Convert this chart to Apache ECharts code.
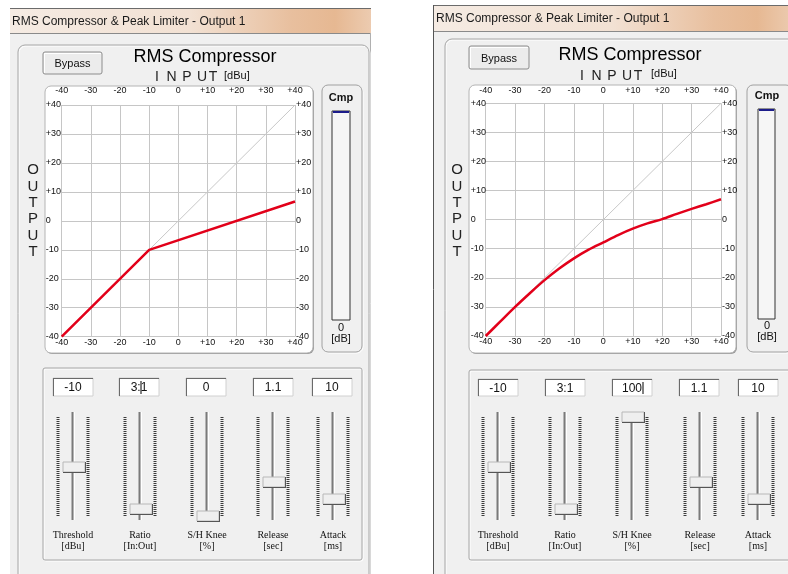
<!DOCTYPE html>
<html><head><meta charset="utf-8">
<script src="https://cdn.jsdelivr.net/npm/echarts@6/dist/echarts.min.js"></script>
<style>html,body{margin:0;padding:0;background:#fff}#c{width:788px;height:574px}</style>
</head><body><div id="c"></div>
<script>
// ---- data ----
const axisMin = -40, axisMax = 40, axisStep = 10;
const hardKneeIn  = [-40, -10, 40];
const hardKneeOut = [-40, -10, 6.7];
const softKneeIn  = [-40, -35, -30, -25, -20, -15, -10, -5, 0, 5, 10, 15, 20, 25, 30, 35, 40];
const softKneeOut = [-40, -35, -30, -25.3, -20.8, -16.8, -13.3, -10.3, -7.8, -5.3, -3.1, -1.3, 0.2, 2, 3.7, 5.3, 7];
const unityIn  = [-40, 40];
const unityOut = [-40, 40];
const paramNames  = ['Threshold', 'Ratio', 'S/H Knee', 'Release', 'Attack'];
const paramUnits  = ['[dBu]', '[In:Out]', '[%]', '[sec]', '[ms]'];
const leftValues  = ['-10', '3:1', '0', '1.1', '10'];
const rightValues = ['-10', '3:1', '100', '1.1', '10'];
const windowTitle = 'RMS Compressor & Peak Limiter - Output 1';
const headerTitle = 'RMS Compressor';
const inputLetters = ['I', 'N', 'P', 'U', 'T'];
const outputLetters = ['O', 'U', 'T', 'P', 'U', 'T'];
const meterReading = '0';

// ---- layout (positions/styles only) ----
const LEFT = {
  winX:10, winW:361, titleY:8, titleH:25, titleTextX:12,
  outer:[18,45,351,560], bypass:[43,52,59,22],
  headerX:205, headerY:57, inputY:77, dbuX:224, dbuY:76,
  outputX:33, frame:[45,86,268,267],
  cmp:[322,85,40,267], meter:[332,111,18,209], cmpX:341, cmpLabelY:98, zeroY:328, dbY:339,
  sliderPanel:[43,368,319,192],
  boxX:[53,119,186,253,312], boxY:378, boxW:40, boxH:18,
  trackX:[73,140,207,273,333], thumbY:[462,504,511,477,494],
  cursorX:141, cursorBox:1, leftBorder:false
};
const RIGHT = {
  winX:433, winW:360, titleY:5, titleH:26, titleTextX:436,
  outer:[445,39,400,560], bypass:[469,46,60,23],
  headerX:630, headerY:55, inputY:76, dbuX:651, dbuY:74,
  outputX:457, frame:[469,85,267,268],
  cmp:[747,85,45,267], meter:[758,109,17,210], cmpX:767, cmpLabelY:96, zeroY:326, dbY:337,
  sliderPanel:[469,370,330,190],
  boxX:[478,545,612,679,738], boxY:379, boxW:40, boxH:17,
  trackX:[498,565,632,700,758], thumbY:[462,504,412,477,494],
  cursorX:643, cursorBox:2, leftBorder:true
};
const inputOffsets = [-48, -33.5, -18, -3, 8];

const SANS = '"Liberation Sans", Arial, sans-serif';
const SERIF = '"Liberation Serif", "DejaVu Serif", serif';
const Z = -5;

function rect(x,y,w,h,style,r){ return {type:'rect', silent:true, z:Z, shape:{x:x,y:y,width:w,height:h,r:r||0}, style:style}; }
function line(x1,y1,x2,y2,style){ return {type:'line', silent:true, z:Z, shape:{x1:x1,y1:y1,x2:x2,y2:y2}, style:style}; }
function text(t,x,y,font,extra){
  return {type:'text', silent:true, z:Z, style:Object.assign({text:t,x:x,y:y,font:font,fill:'#111',
    textAlign:'center', textVerticalAlign:'middle', align:'center', verticalAlign:'middle'}, extra||{})};
}

function buildPanel(P, values){
  const g = [];
  // window body
  g.push(rect(P.winX, P.titleY, P.winW, 600, {fill:'#f0f0f0'}));
  // title bar
  g.push(rect(P.winX, P.titleY, P.winW, P.titleH, {fill:{type:'linear',x:0,y:0,x2:1,y2:0,colorStops:[
    {offset:0,color:'#f5ebe3'},{offset:0.5,color:'#f2e1d3'},{offset:0.78,color:'#e8bf9e'},{offset:0.9,color:'#e6b892'},{offset:1,color:'#eccbb0'}]}}));
  g.push(line(P.winX, P.titleY+0.5, P.winX+P.winW, P.titleY+0.5, {stroke:'#6b6b6b', lineWidth:1}));
  g.push(line(P.winX, P.titleY+P.titleH+0.5, P.winX+P.winW, P.titleY+P.titleH+0.5, {stroke:'#8a8a8a', lineWidth:1}));
  g.push(text(windowTitle, P.titleTextX, P.titleY+P.titleH/2+1, '12px '+SANS, {textAlign:'left', align:'left', fill:'#1a1a1a'}));
  if (P.leftBorder) g.push(line(P.winX+0.5, P.titleY, P.winX+0.5, 574, {stroke:'#555', lineWidth:1}));
  else g.push(line(P.winX+P.winW-0.5, P.titleY+P.titleH, P.winX+P.winW-0.5, 574, {stroke:'#b0b0b0', lineWidth:1}));
  // outer etched panel
  const o = P.outer;
  g.push(rect(o[0]+1, o[1]+1, o[2], o[3], {fill:'none', stroke:'#ffffff', lineWidth:1}, 7));
  g.push(rect(o[0], o[1], o[2], o[3], {fill:'none', stroke:'#a6a6a6', lineWidth:1}, 7));
  // bypass button
  const b = P.bypass;
  g.push(rect(b[0], b[1], b[2], b[3], {fill:'#ececec', stroke:'#8c8c8c', lineWidth:1}, 2));
  g.push(line(b[0]+1, b[1]+1.5, b[0]+b[2]-1, b[1]+1.5, {stroke:'#fff', lineWidth:1}));
  g.push(line(b[0]+1.5, b[1]+1, b[0]+1.5, b[1]+b[3]-1, {stroke:'#fff', lineWidth:1}));
  g.push(text('Bypass', b[0]+b[2]/2, b[1]+b[3]/2+1, '11px '+SANS));
  // header
  g.push(text(headerTitle, P.headerX, P.headerY, '18px '+SANS, {fill:'#000'}));
  inputLetters.forEach(function(ch,i){ g.push(text(ch, P.headerX+inputOffsets[i], P.inputY, '14px '+SANS, {fill:'#222'})); });
  g.push(text('[dBu]', P.dbuX, P.dbuY, '11px '+SANS, {textAlign:'left', align:'left'}));
  // OUTPUT vertical
  outputLetters.forEach(function(ch,i){ g.push(text(ch, P.outputX, 170+i*16.4, '15px '+SANS, {fill:'#222'})); });
  // chart frame
  const f = P.frame;
  g.push(rect(f[0]+1, f[1]+1, f[2], f[3], {fill:'#9a9a9a'}, 6));
  g.push(rect(f[0], f[1], f[2], f[3], {fill:'#ffffff', stroke:'#b4b4b4', lineWidth:1}, 6));
  // cmp meter
  const c = P.cmp;
  g.push(rect(c[0]+1, c[1]+1, c[2], c[3], {fill:'none', stroke:'#ffffff', lineWidth:1}, 6));
  g.push(rect(c[0], c[1], c[2], c[3], {fill:'#f0f0f0', stroke:'#a0a0a0', lineWidth:1}, 6));
  g.push(text('Cmp', P.cmpX, P.cmpLabelY, 'bold 11px '+SANS));
  const m = P.meter;
  g.push(rect(m[0], m[1], m[2], m[3], {fill:'#f6f6f6', stroke:'#333', lineWidth:1}));
  g.push(line(m[0]+1, m[1]+1, m[0]+m[2]-1, m[1]+1, {stroke:'#1c1c8a', lineWidth:2}));
  g.push(text(meterReading, P.cmpX, P.zeroY, '11px '+SANS));
  g.push(text('[dB]', P.cmpX, P.dbY, '11px '+SANS));
  // slider panel
  const s = P.sliderPanel;
  g.push(rect(s[0]+1, s[1]+1, s[2], s[3], {fill:'none', stroke:'#ffffff', lineWidth:1}, 2));
  g.push(rect(s[0], s[1], s[2], s[3], {fill:'none', stroke:'#a6a6a6', lineWidth:1}, 2));
  for (let i=0;i<5;i++){
    const bx = P.boxX[i], by = P.boxY;
    g.push(rect(bx, by, P.boxW, P.boxH, {fill:'#fff', stroke:'#d0d0d0', lineWidth:1}));
    g.push(line(bx+0.5, by, bx+0.5, by+P.boxH, {stroke:'#6a6a6a', lineWidth:1}));
    g.push(line(bx, by+0.5, bx+P.boxW, by+0.5, {stroke:'#6a6a6a', lineWidth:1}));
    g.push(text(values[i], bx+P.boxW/2, by+P.boxH/2+1, '12px '+SANS));
    const tx = P.trackX[i];
    // tick columns
    g.push(line(tx-15, 417, tx-15, 517, {stroke:'#3a3a3a', lineWidth:3, lineDash:[1,1]}));
    g.push(line(tx+15, 417, tx+15, 517, {stroke:'#3a3a3a', lineWidth:3, lineDash:[1,1]}));
    // track
    g.push(line(tx-0.5, 412, tx-0.5, 520, {stroke:'#7a7a7a', lineWidth:2}));
    g.push(line(tx+1.5, 412, tx+1.5, 520, {stroke:'#ffffff', lineWidth:1}));
    // thumb
    const ty = P.thumbY[i];
    g.push(rect(tx-10, ty, 22, 10, {fill:'#efefef', stroke:'#b8b8b8', lineWidth:1}));
    g.push(line(tx-10, ty+10.5, tx+12.5, ty+10.5, {stroke:'#555', lineWidth:1}));
    g.push(line(tx+12.5, ty, tx+12.5, ty+11, {stroke:'#555', lineWidth:1}));
    // labels
    g.push(text(paramNames[i], tx, 535, '10px '+SERIF));
    g.push(text(paramUnits[i], tx, 546, '10px '+SERIF));
  }
  // text cursor
  const cb = P.cursorBox;
  g.push(line(P.cursorX, P.boxY+3, P.cursorX, P.boxY+P.boxH-2, {stroke:'#000', lineWidth:1}));
  return g;
}

const fmt = function(v){ return v > 0 ? '+' + v : String(v); };
function xAx(gi, pos, margin){
  return {type:'value', gridIndex:gi, position:pos, min:axisMin, max:axisMax, interval:axisStep,
    axisLine:{show:false}, axisTick:{show:false},
    splitLine:{show:pos==='bottom', lineStyle:{color:'#c6c6c6', width:1}},
    axisLabel:{margin:margin, fontSize:9, fontFamily:'Liberation Sans', color:'#111', formatter:fmt, showMinLabel:true, showMaxLabel:true}};
}
function yAx(gi, pos, margin, align){
  return {type:'value', gridIndex:gi, position:pos, min:axisMin, max:axisMax, interval:axisStep,
    axisLine:{show:false}, axisTick:{show:false},
    splitLine:{show:pos==='left', lineStyle:{color:'#c6c6c6', width:1}},
    axisLabel:{margin:margin, align:align, fontSize:9, fontFamily:'Liberation Sans', color:'#111', formatter:fmt, showMinLabel:true, showMaxLabel:true}};
}
const zip = (a,b) => a.map((v,i) => [v, b[i]]);

const option = {
  animation:false,
  backgroundColor:'#ffffff',
  graphic:{elements: buildPanel(LEFT, leftValues).concat(buildPanel(RIGHT, rightValues))},
  grid:[
    {left:61.7, top:105, width:233.3, height:231.7},
    {left:485.7, top:103.3, width:235.3, height:232.7}
  ],
  xAxis:[ xAx(0,'bottom',1), xAx(0,'top',10), xAx(1,'bottom',1), xAx(1,'top',8) ],
  yAxis:[ yAx(0,'left',16,'left'), yAx(0,'right',1,'left'), yAx(1,'left',15,'left'), yAx(1,'right',1,'left') ],
  series:[
    {type:'line', xAxisIndex:0, yAxisIndex:0, data:zip(unityIn, unityOut), symbol:'none', lineStyle:{color:'#c8c8c8', width:1}, z:2},
    {type:'line', xAxisIndex:0, yAxisIndex:0, data:zip(hardKneeIn, hardKneeOut), symbol:'none', lineStyle:{color:'#e2001a', width:2.5}, z:3},
    {type:'line', xAxisIndex:2, yAxisIndex:2, data:zip(unityIn, unityOut), symbol:'none', lineStyle:{color:'#c8c8c8', width:1}, z:2},
    {type:'line', xAxisIndex:2, yAxisIndex:2, data:zip(softKneeIn, softKneeOut), symbol:'none', smooth:0.3, lineStyle:{color:'#e2001a', width:2.5}, z:3}
  ]
};
const chart = echarts.init(document.getElementById('c'));
chart.setOption(option);
</script></body></html>
